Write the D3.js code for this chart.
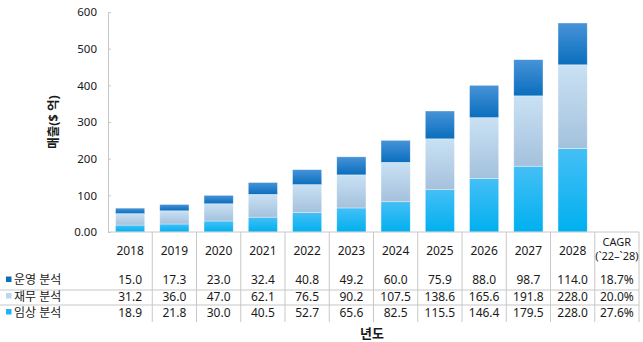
<!DOCTYPE html>
<html><head><meta charset="utf-8">
<script src="https://cdn.jsdelivr.net/npm/d3@7"></script>
<style>
body{margin:0;background:#fff;}
text{font-family:"Noto Sans","Noto Sans CJK KR",sans-serif;fill:#1a1a1a;}
</style></head>
<body><svg id="c" width="643" height="342"></svg>
<script>
const years = ["2018","2019","2020","2021","2022","2023","2024","2025","2026","2027","2028"];
const seriesNames = ["운영 분석","재무 분석","임상 분석"];
const ops = [15.0,17.3,23.0,32.4,40.8,49.2,60.0,75.9,88.0,98.7,114.0];
const fin = [31.2,36.0,47.0,62.1,76.5,90.2,107.5,138.6,165.6,191.8,228.0];
const clin = [18.9,21.8,30.0,40.5,52.7,65.6,82.5,115.5,146.4,179.5,228.0];
const cagr = ["18.7%","20.0%","27.6%"];
const cagrHeader = ["CAGR","(`22–`28)"];
const yTicks = [0,100,200,300,400,500,600];

(function(){
const svg = d3.select("#c");
const mLeft = 108, mRight = 639, mTop = 12, mBottom = 232;
const cols = years.concat(["CAGR"]);
const x = d3.scaleBand().domain(cols).range([mLeft,mRight]).paddingInner(0).paddingOuter(0);
const y = d3.scaleLinear().domain([0,600]).range([mBottom,mTop]);

const defs = svg.append("defs");
const grads = [
  {id:"gOps", c0:"#4793d8", c1:"#0a6ebd"},
  {id:"gFin", c0:"#c9e1f4", c1:"#a4c1dc"},
  {id:"gClin", c0:"#45bff6", c1:"#00b0ef"}
];
grads.forEach(g=>{
  const lg = defs.append("linearGradient").attr("id",g.id).attr("x1",0).attr("y1",0).attr("x2",0).attr("y2",1);
  lg.append("stop").attr("offset","0%").attr("stop-color",g.c0);
  lg.append("stop").attr("offset","100%").attr("stop-color",g.c1);
});
const legendColors = ["#0a6ebd","#bcd6ee","#1fb4f2"];

const rows = years.map((yr,i)=>({year:yr, clin:clin[i], fin:fin[i], ops:ops[i]}));
const stack = d3.stack().keys(["clin","fin","ops"])(rows);
const fillFor = {clin:"url(#gClin)", fin:"url(#gFin)", ops:"url(#gOps)"};
const bw = x.bandwidth()*0.66;

stack.forEach(layer=>{
  svg.append("g").selectAll("rect").data(layer).join("rect")
    .attr("x", d=>x(d.data.year)+(x.bandwidth()-bw)/2)
    .attr("y", d=>y(d[1]))
    .attr("width", bw)
    .attr("height", d=>y(d[0])-y(d[1]))
    .attr("fill", fillFor[layer.key])
    .attr("stroke","#ffffff").attr("stroke-opacity",0.6).attr("stroke-width",0.6);
});

const ya = d3.axisLeft(y).tickValues(yTicks).tickSize(-3).tickPadding(11)
  .tickFormat(d=>d===0?"0.00":d);
const yg = svg.append("g").attr("transform",`translate(${mLeft},0)`).call(ya);
yg.select(".domain").attr("stroke","#c8c8c8");
yg.selectAll(".tick line").attr("stroke","#c8c8c8");
yg.selectAll(".tick text").attr("font-size",11.5).attr("fill","#222");

svg.append("line").attr("x1",mLeft).attr("x2",mRight).attr("y1",mBottom).attr("y2",mBottom)
  .attr("stroke","#c8c8c8").attr("stroke-width",1);

svg.append("g").selectAll("line").data(cols.slice(1).concat(["_end"])).join("line")
  .attr("x1",d=>d==="_end"?mRight:x(d)).attr("x2",d=>d==="_end"?mRight:x(d))
  .attr("y1",mBottom).attr("y2",322)
  .attr("stroke","#c8c8c8").attr("stroke-width",1);

[290,305].forEach(yy=>{
  svg.append("line").attr("x1",0).attr("x2",mRight).attr("y1",yy).attr("y2",yy)
    .attr("stroke","#c8c8c8").attr("stroke-width",1.2);
});

svg.append("g").selectAll("text").data(years).join("text")
  .attr("x",d=>x(d)+x.bandwidth()/2).attr("y",254.5)
  .attr("text-anchor","middle").attr("font-size",12).text(d=>d);
const cx = x("CAGR")+x.bandwidth()/2;
svg.append("g").selectAll("text").data(cagrHeader).join("text")
  .attr("x",cx).attr("y",(d,i)=>246+i*13.8)
  .attr("text-anchor","middle").attr("font-size",11).attr("font-family","Liberation Sans")
  .text(d=>d);

const tableRows = [ops, fin, clin];
const rowY = [284, 300.5, 316.5];
tableRows.forEach((vals,r)=>{
  svg.append("g").selectAll("text").data(vals).join("text")
    .attr("x",(d,i)=>x(years[i])+x.bandwidth()/2).attr("y",rowY[r])
    .attr("text-anchor","middle").attr("font-size",12).text(d=>d.toFixed(1));
  svg.append("text").attr("x",cx).attr("y",rowY[r]).attr("text-anchor","middle")
    .attr("font-size",12).text(cagr[r]);
  svg.append("rect").attr("x",6).attr("y",rowY[r]-7.5).attr("width",5.5).attr("height",5.5)
    .attr("fill",legendColors[r]);
  svg.append("text").attr("x",14).attr("y",rowY[r]).attr("font-size",12)
    .attr("font-family","Noto Sans CJK KR").text(seriesNames[r]);
});

svg.append("text").attr("transform","translate(58,122) rotate(-90)")
  .attr("text-anchor","middle").attr("font-size",12.5).attr("font-weight","bold")
  .attr("font-family","Noto Sans CJK KR").text("매출($ 억)");
svg.append("text").attr("x",372).attr("y",338).attr("text-anchor","middle")
  .attr("font-size",13).attr("font-weight","bold").attr("font-family","Noto Sans CJK KR").text("년도");
})();
</script></body></html>
